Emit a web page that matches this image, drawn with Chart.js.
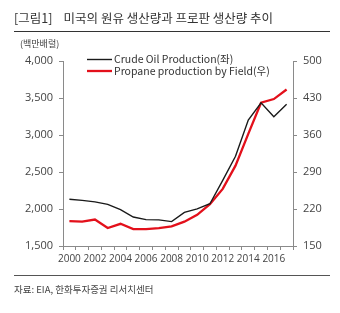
<!DOCTYPE html>
<html>
<head>
<meta charset="utf-8">
<script src="https://cdn.jsdelivr.net/npm/chart.js@4"></script>
<style>
  body { margin: 0; background: #fff; }
  #wrap { position: relative; width: 340px; height: 313px; overflow: hidden; font-family: 'Noto Sans CJK KR', 'Open Sans', sans-serif; color: #333; }
  canvas { position: absolute; left: 0; top: 0; }
  .txt { position: absolute; white-space: nowrap; }
  .rule { position: absolute; left: 14px; width: 316px; height: 1px; background: #333; }
</style>
</head>
<body>
<div id="wrap">
  <canvas id="chart" width="340" height="313"></canvas>
  <div class="txt" style="left:14px; top:8px; font-size:12.5px;">[그림1]&nbsp;&nbsp;&nbsp;&nbsp;미국의 원유 생산량과 프로판 생산량 추이</div>
  <div class="rule" style="top:31px;"></div>
  <div class="txt" style="left:20px; top:37px; font-size:9px; color:#444;">(백만배럴)</div>
  <div class="rule" style="top:275px; background:#555;"></div>
  <div class="txt" style="left:14px; top:282px; font-size:9.5px; color:#444;">자료: EIA, 한화투자증권 리서치센터</div>
</div>
<script>
const years = ['2000','2001','2002','2003','2004','2005','2006','2007','2008','2009','2010','2011','2012','2013','2014','2015','2016','2017'];
// crude oil, million barrels (left axis)
const crudeOil = [2131, 2117, 2097, 2062, 1991, 1892, 1857, 1853, 1830, 1954, 2001, 2071, 2387, 2712, 3202, 3436, 3247, 3414];
// propane production by field, million barrels (right axis)
const propane = [197, 196, 200, 184, 192, 182, 182, 184, 187, 196, 209, 229, 258, 302, 362, 421, 428, 446];
const leftTicks = [1500, 2000, 2500, 3000, 3500, 4000];
const rightTicks = [150, 220, 290, 360, 430, 500];

const labelFont = { family: "'Open Sans', 'Noto Sans', sans-serif", size: 11 };
const axisGray = '#8a8a8a';

// legend drawn inside the plot area
const insideLegend = {
    id: 'insideLegend',
    afterDraw(chart) {
        const ctx = chart.ctx;
        ctx.save();
        ctx.font = "10.5px 'Noto Sans CJK KR', 'Open Sans', sans-serif";
        ctx.textBaseline = 'middle';
        chart.data.datasets.forEach((ds, i) => {
            const y = 59.5 + i * 11.5;
            ctx.strokeStyle = ds.borderColor;
            ctx.lineWidth = ds.borderWidth;
            ctx.beginPath();
            ctx.moveTo(87, y);
            ctx.lineTo(112, y);
            ctx.stroke();
            ctx.fillStyle = '#333';
            ctx.fillText(ds.label, 114, y);
        });
        ctx.restore();
    }
};

new Chart(document.getElementById('chart'), {
    type: 'line',
    data: {
        labels: years,
        datasets: [
            {
                label: 'Crude Oil Production(좌)',
                data: crudeOil,
                borderColor: '#1a1a1a',
                borderWidth: 1.4,
                pointRadius: 0,
                tension: 0,
                yAxisID: 'y',
            },
            {
                label: 'Propane production by Field(우)',
                data: propane,
                borderColor: '#e3101b',
                borderWidth: 2.3,
                pointRadius: 0,
                tension: 0,
                yAxisID: 'y2',
            }
        ]
    },
    options: {
        responsive: false,
        animation: false,
        layout: { padding: { top: 61, left: 0, right: 0, bottom: 0 } },
        plugins: { legend: { display: false }, tooltip: { enabled: false } },
        scales: {
            x: {
                offset: true,
                grid: { display: true, drawOnChartArea: false, offset: true, color: axisGray, tickLength: 4 },
                border: { color: axisGray },
                ticks: {
                    autoSkip: false,
                    maxRotation: 0,
                    padding: 3,
                    color: '#444',
                    font: { family: labelFont.family, size: 10 },
                    callback: (v, i) => (i % 2 === 0 ? years[i] : '')
                },
                afterFit: (scale) => { scale.height = 67; }
            },
            y: {
                position: 'left',
                min: 1500,
                max: 4000,
                afterBuildTicks: (scale) => { scale.ticks = leftTicks.map(v => ({ value: v })); },
                grid: { display: true, drawOnChartArea: false, color: axisGray, tickLength: 4 },
                border: { color: axisGray },
                ticks: {
                    color: '#444',
                    padding: 6,
                    font: labelFont,
                    callback: (v) => v.toLocaleString('en-US')
                },
                afterFit: (scale) => { scale.width = 63; }
            },
            y2: {
                position: 'right',
                min: 150,
                max: 500,
                afterBuildTicks: (scale) => { scale.ticks = rightTicks.map(v => ({ value: v })); },
                grid: { display: true, drawOnChartArea: false, color: axisGray, tickLength: 4 },
                border: { color: axisGray },
                ticks: {
                    color: '#444',
                    padding: 6,
                    font: labelFont
                },
                afterFit: (scale) => { scale.width = 47; }
            }
        }
    },
    plugins: [insideLegend]
});
</script>
</body>
</html>
